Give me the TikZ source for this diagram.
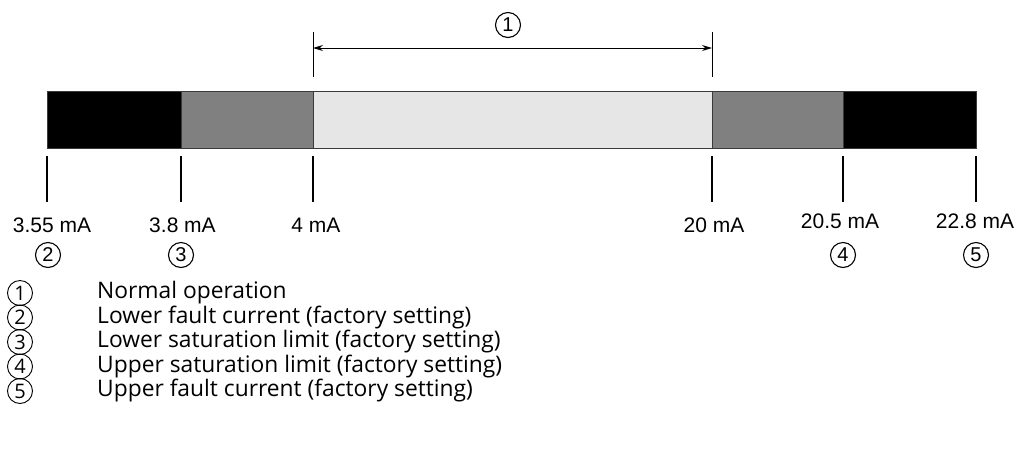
\documentclass[tikz,border=0pt]{standalone}
\usepackage{fontspec}
\setmainfont{Liberation Sans}
\newfontfamily\legendfont{Open Sans}
\usetikzlibrary{arrows.meta}
\definecolor{midgray}{HTML}{808080}
\definecolor{lightgray}{HTML}{E6E6E6}
\definecolor{edge}{HTML}{3A3A3A}
\begin{document}
\begin{tikzpicture}[x=1pt,y=-1pt,
  seg/.style={draw=edge, line width=1pt},
  tickline/.style={line width=1.2pt},
  val/.style={font=\fontsize{21}{24}\selectfont, inner sep=0pt},
  num/.style={circle, draw, line width=1.1pt, minimum size=25pt, inner sep=0pt, font=\fontsize{20}{22}\selectfont},
  lnum/.style={num, line width=0.9pt, font=\legendfont\fontsize{20}{22}\selectfont},
  ltext/.style={anchor=west, inner sep=0pt, font=\legendfont\fontsize{22.8}{26}\selectfont},
  dimline/.style={line width=1pt, {Stealth[length=10pt,width=6pt]}-{Stealth[length=10pt,width=6pt]}}
]
\useasboundingbox (0,0) rectangle (1028,467);
% bar segments
\fill[black] (47,91) rectangle (181,148);
\fill[midgray] (181,91) rectangle (313,148);
\fill[lightgray] (313,91) rectangle (712,148);
\fill[midgray] (712,91) rectangle (843,148);
\fill[black] (843,91) rectangle (976,148);
\draw[seg] (47,91) rectangle (976,148);
\foreach \x in {181,313,712,843} \draw[seg] (\x,91) -- (\x,148);
% tick coordinates
\foreach \n/\x in {a/47,b/181,c/313,d/712,e/843,f/976}{
  \coordinate (\n top) at (\x,156);
  \coordinate (\n bot) at (\x,202);
}
\foreach \n in {a,b,c,d,e,f} \draw[tickline] (\n top) -- (\n bot);
% dimension
\coordinate (dl top) at (313,32); \coordinate (dl bot) at (313,77);
\coordinate (dr top) at (712,32); \coordinate (dr bot) at (712,77);
\draw[line width=1pt] (dl top) -- (dl bot);
\draw[line width=1pt] (dr top) -- (dr bot);
\coordinate (al) at (313,48); \coordinate (ar) at (712,48);
\draw[dimline] (al) -- (ar);
\node[num] (n1) at (508,25) {1};
% value labels
\node[val] (v1) at (52,225) {3.55 mA};
\node[val] (v2) at (182.5,225) {3.8 mA};
\node[val] (v3) at (316,225) {4 mA};
\node[val] (v4) at (714,225) {20 mA};
\node[val] (v5) at (840,221) {20.5 mA};
\node[val] (v6) at (975,221) {22.8 mA};
\node[num] (c2) at (48,255) {2};
\node[num] (c3) at (181,255) {3};
\node[num] (c4) at (843,255) {4};
\node[num] (c5) at (976,255) {5};
% legend
\node[lnum] (l1) at (20,293) {1};
\node[lnum] (l2) at (20,317.5) {2};
\node[lnum] (l3) at (20,342) {3};
\node[lnum] (l4) at (20,366.5) {4};
\node[lnum] (l5) at (20,391) {5};
\node[ltext] (t1) at (97,293) {Normal operation};
\node[ltext] (t2) at (97,317.5) {Lower fault current (factory setting)};
\node[ltext] (t3) at (97,342) {Lower saturation limit (factory setting)};
\node[ltext] (t4) at (97,366.5) {Upper saturation limit (factory setting)};
\node[ltext] (t5) at (97,391) {Upper fault current (factory setting)};
\end{tikzpicture}
\end{document}
